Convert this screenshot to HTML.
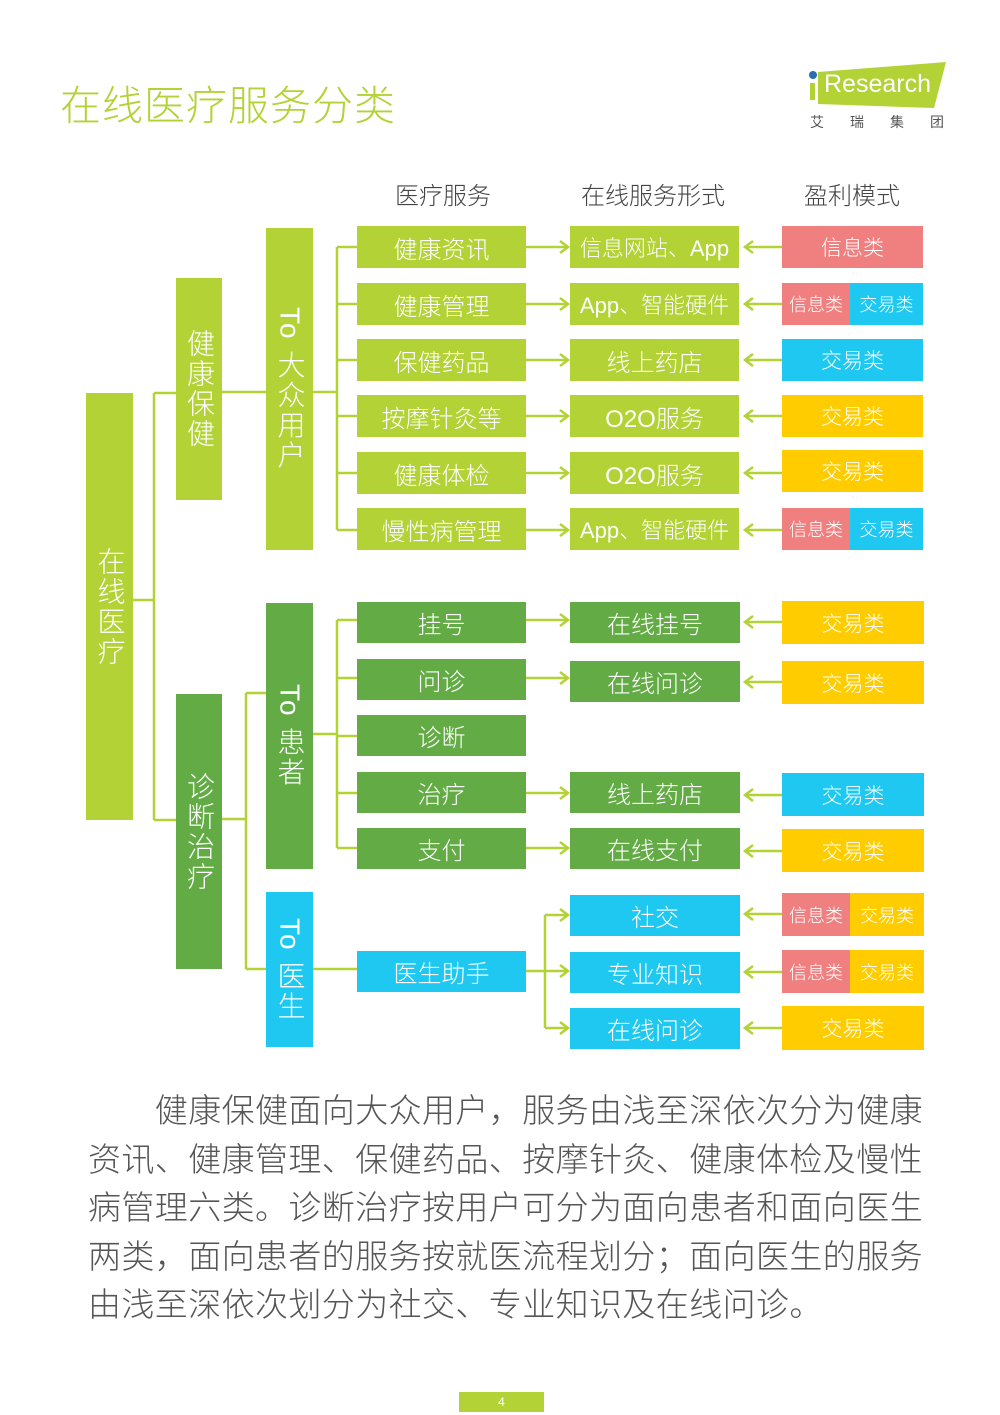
<!DOCTYPE html>
<html><head><meta charset="utf-8"><style>
body{margin:0;width:1000px;height:1415px;background:#fff;position:relative;overflow:hidden;font-family:"Liberation Sans","Noto Sans CJK SC",sans-serif}
.b{position:absolute;color:#fff;display:flex;align-items:center;justify-content:center;font-size:24px;font-weight:300;white-space:nowrap;overflow:hidden}
.v{writing-mode:vertical-rl;text-orientation:mixed;font-size:28px;letter-spacing:2px}
.lg{background:#b2d235}.dg{background:#63ab45}.cy{background:#1ec8f0}.pk{background:#f08080}.ye{background:#ffcc00}
.h{position:absolute;top:176px;font-size:24px;color:#444;width:200px;text-align:center;font-weight:300}
.p{position:absolute;left:88px;width:840px;font-size:33px;color:#555;font-weight:300;white-space:nowrap}
</style></head><body>
<div style="position:absolute;left:60px;top:72px;font-size:41px;color:#b2d235;letter-spacing:1px;font-weight:300">在线医疗服务分类</div>
<svg style="position:absolute;left:0;top:0" width="1000" height="1415">
<polygon points="818,72 946,62 934,108 818,104" fill="#b2d235"/>
<circle cx="813" cy="75" r="4" fill="#2a6db5"/>
<rect x="810" y="83" width="5" height="17" fill="#b2d235"/>
<g stroke="#b2d235" stroke-width="2.5" fill="none">
<path d="M133 600H154M154 393V820M154 393H176M154 820H176"/>
<path d="M222 392H266"/>
<path d="M313 392H337M337 247V530M337 247H357M337 304H357M337 360H357M337 416H357M337 473H357M337 530H357"/>
<path d="M222 819H246M246 693V969M246 693H266M246 969H266"/>
<path d="M313 734H337M337 620V848M337 620H357M337 678H357M337 736H357M337 793H357M337 848H357"/>
<path d="M313 969H357"/>
<path d="M526 971H545M545 915V1028M545 915H568M545 971H568M545 1028H568"/>
<path d="M526 247H568M526 304H568M526 360H568M526 416H568M526 473H568M526 530H568M526 620H568M526 678H568M526 793H568M526 848H568"/>
<path d="M560 241L568 247L560 253M560 298L568 304L560 310M560 354L568 360L560 366M560 410L568 416L560 422M560 467L568 473L560 479M560 524L568 530L560 536M560 614L568 620L560 626M560 672L568 678L560 684M560 787L568 793L560 799M560 842L568 848L560 854M560 909L568 915L560 921M560 965L568 971L560 977M560 1022L568 1028L560 1034"/>
<path d="M782 247H745M782 304H745M782 360H745M782 416H745M782 473H745M782 530H745M782 622H745M782 682H745M782 795H745M782 851H745M782 914H745M782 972H745M782 1028H745"/>
<path d="M753 241L745 247L753 253M753 298L745 304L753 310M753 354L745 360L753 366M753 410L745 416L753 422M753 467L745 473L753 479M753 524L745 530L753 536M753 616L745 622L753 628M753 676L745 682L753 688M753 789L745 795L753 801M753 845L745 851L753 857M753 908L745 914L753 920M753 966L745 972L753 978M753 1022L745 1028L753 1034"/>
</g>
</svg>
<div style="position:absolute;left:824px;top:70px;font-size:25px;color:#fff">Research</div>
<div style="position:absolute;left:810px;top:112px;font-size:14px;color:#555;letter-spacing:26px">艾瑞集团</div>
<div class="h" style="left:343px">医疗服务</div>
<div class="h" style="left:553px">在线服务形式</div>
<div class="h" style="left:752px">盈利模式</div>

<div class="b v lg" style="left:86px;top:393px;width:47px;height:427px">在线医疗</div>
<div class="b v lg" style="left:176px;top:278px;width:46px;height:222px">健康保健</div>
<div class="b v dg" style="left:176px;top:694px;width:46px;height:275px">诊断治疗</div>
<div class="b v lg" style="left:266px;top:228px;width:47px;height:322px">To 大众用户</div>
<div class="b v dg" style="left:266px;top:603px;width:47px;height:266px">To 患者</div>
<div class="b v cy" style="left:266px;top:892px;width:47px;height:155px">To 医生</div>

<div class="b lg" style="left:357px;top:226px;width:169px;height:42px">健康资讯</div>
<div class="b lg" style="left:357px;top:283px;width:169px;height:42px">健康管理</div>
<div class="b lg" style="left:357px;top:339px;width:169px;height:42px">保健药品</div>
<div class="b lg" style="left:357px;top:395px;width:169px;height:42px">按摩针灸等</div>
<div class="b lg" style="left:357px;top:452px;width:169px;height:42px">健康体检</div>
<div class="b lg" style="left:357px;top:508px;width:169px;height:42px">慢性病管理</div>
<div class="b dg" style="left:357px;top:602px;width:169px;height:41px">挂号</div>
<div class="b dg" style="left:357px;top:659px;width:169px;height:41px">问诊</div>
<div class="b dg" style="left:357px;top:715px;width:169px;height:41px">诊断</div>
<div class="b dg" style="left:357px;top:772px;width:169px;height:41px">治疗</div>
<div class="b dg" style="left:357px;top:828px;width:169px;height:41px">支付</div>
<div class="b cy" style="left:357px;top:951px;width:169px;height:41px">医生助手</div>

<div class="b lg" style="left:570px;top:226px;width:169px;height:42px;font-size:22px">信息网站、App</div>
<div class="b lg" style="left:570px;top:283px;width:169px;height:42px;font-size:22px">App、智能硬件</div>
<div class="b lg" style="left:570px;top:339px;width:169px;height:42px">线上药店</div>
<div class="b lg" style="left:570px;top:395px;width:169px;height:42px">O2O服务</div>
<div class="b lg" style="left:570px;top:452px;width:169px;height:42px">O2O服务</div>
<div class="b lg" style="left:570px;top:508px;width:169px;height:42px;font-size:22px">App、智能硬件</div>
<div class="b dg" style="left:570px;top:602px;width:170px;height:41px">在线挂号</div>
<div class="b dg" style="left:570px;top:661px;width:170px;height:41px">在线问诊</div>
<div class="b dg" style="left:570px;top:772px;width:170px;height:41px">线上药店</div>
<div class="b dg" style="left:570px;top:828px;width:170px;height:41px">在线支付</div>
<div class="b cy" style="left:570px;top:895px;width:170px;height:41px">社交</div>
<div class="b cy" style="left:570px;top:952px;width:170px;height:41px">专业知识</div>
<div class="b cy" style="left:570px;top:1008px;width:170px;height:41px">在线问诊</div>

<div class="b pk" style="left:782px;top:226px;width:141px;height:42px;font-size:21px">信息类</div>
<div class="b pk" style="left:782px;top:283px;width:68px;height:42px;font-size:18px">信息类</div>
<div class="b cy" style="left:850px;top:283px;width:73px;height:42px;font-size:18px">交易类</div>
<div class="b cy" style="left:782px;top:339px;width:141px;height:42px;font-size:21px">交易类</div>
<div class="b ye" style="left:782px;top:395px;width:141px;height:42px;font-size:21px">交易类</div>
<div class="b ye" style="left:782px;top:450px;width:141px;height:42px;font-size:21px">交易类</div>
<div class="b pk" style="left:782px;top:508px;width:68px;height:42px;font-size:18px">信息类</div>
<div class="b cy" style="left:850px;top:508px;width:73px;height:42px;font-size:18px">交易类</div>
<div class="b ye" style="left:782px;top:601px;width:142px;height:43px;font-size:21px">交易类</div>
<div class="b ye" style="left:782px;top:661px;width:142px;height:43px;font-size:21px">交易类</div>
<div class="b cy" style="left:782px;top:773px;width:142px;height:43px;font-size:21px">交易类</div>
<div class="b ye" style="left:782px;top:829px;width:142px;height:43px;font-size:21px">交易类</div>
<div class="b pk" style="left:782px;top:893px;width:68px;height:43px;font-size:18px">信息类</div>
<div class="b ye" style="left:850px;top:893px;width:74px;height:43px;font-size:18px">交易类</div>
<div class="b pk" style="left:782px;top:950px;width:68px;height:43px;font-size:18px">信息类</div>
<div class="b ye" style="left:850px;top:950px;width:74px;height:43px;font-size:18px">交易类</div>
<div class="b ye" style="left:782px;top:1006px;width:142px;height:44px;font-size:21px">交易类</div>

<div class="p" style="top:1084px;letter-spacing:0.4px">　　健康保健面向大众用户，服务由浅至深依次分为健康</div>
<div class="p" style="top:1133px;letter-spacing:0.4px">资讯、健康管理、保健药品、按摩针灸、健康体检及慢性</div>
<div class="p" style="top:1181px;letter-spacing:0.4px">病管理六类。诊断治疗按用户可分为面向患者和面向医生</div>
<div class="p" style="top:1230px;letter-spacing:0.4px">两类，面向患者的服务按就医流程划分；面向医生的服务</div>
<div class="p" style="top:1278px;letter-spacing:0.4px">由浅至深依次划分为社交、专业知识及在线问诊。</div>

<div class="b lg" style="left:459px;top:1392px;width:85px;height:20px;font-size:12px">4</div>
</body></html>
